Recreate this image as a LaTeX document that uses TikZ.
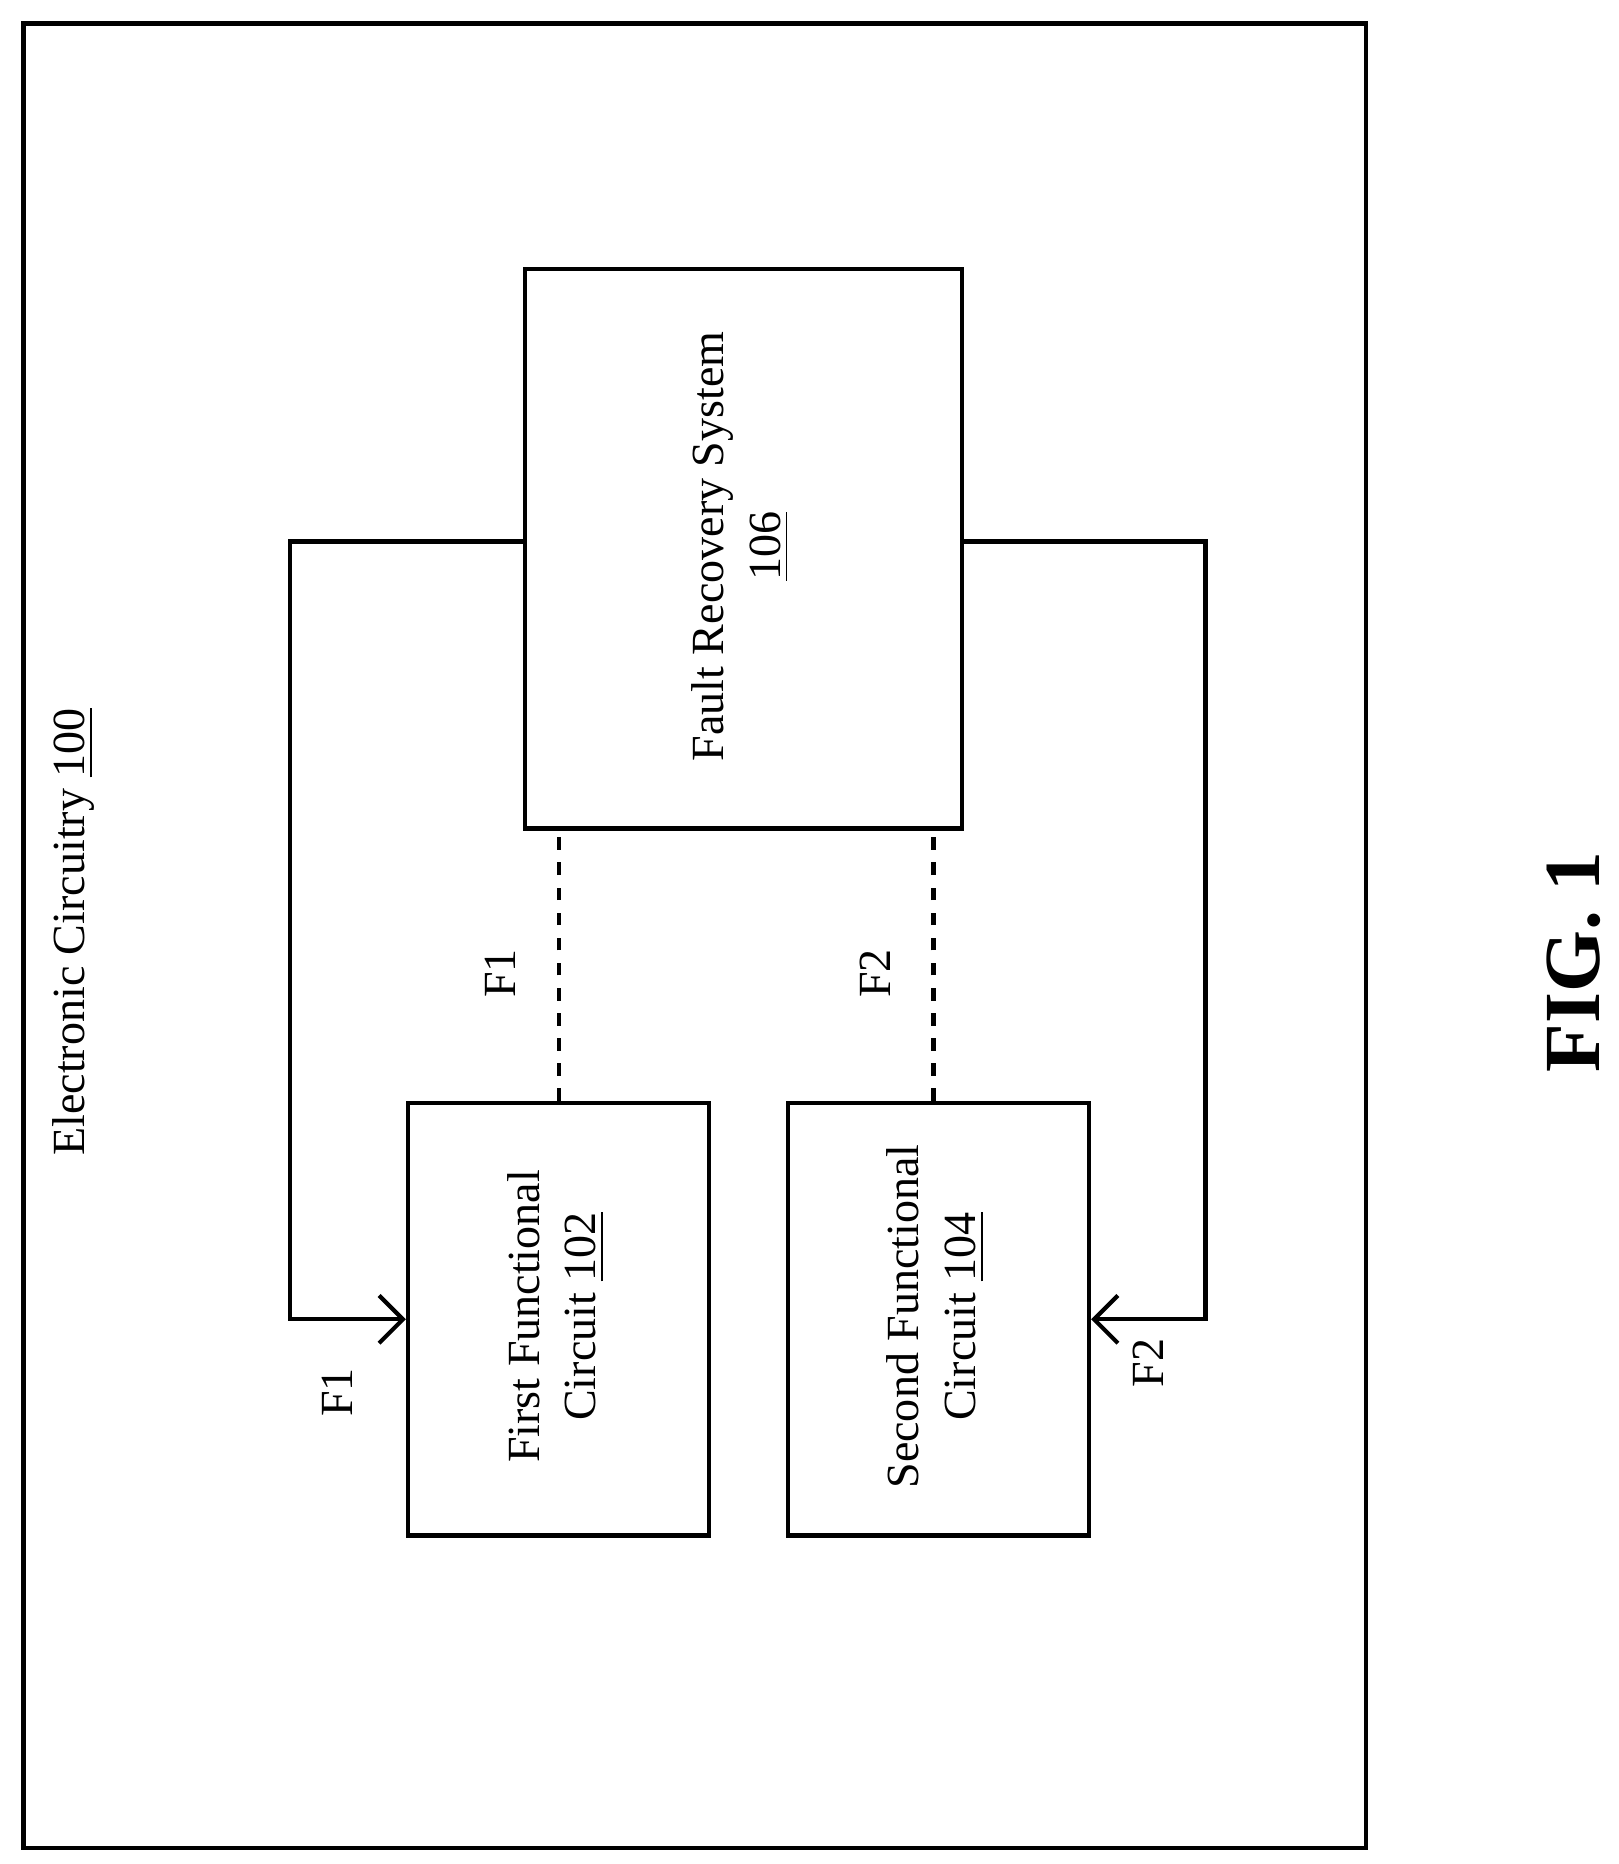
\documentclass[tikz,border=0pt]{standalone}
\usepackage{fontspec}
\setmainfont{Liberation Serif}
\usetikzlibrary{positioning,arrows.meta}
\begin{document}
\begin{tikzpicture}[x=0.01cm,y=-0.01cm,line width=1pt,
		blk/.style={draw=black,inner sep=0pt,anchor=north west},
		txt/.style={rotate=90,align=center,font=\fontsize{11}{13.5}\selectfont},
		sig/.style={-{Straight Barb[length=2mm,width=4mm]}}]
	\useasboundingbox (0,0) rectangle (1360,1566);
	\node[blk,minimum width=11.27cm,minimum height=15.32cm] (ec) at (18,18) {};
	\node[blk,minimum width=3.67cm,minimum height=4.7cm] (frs) at (439,224) {};
	\node[blk,minimum width=2.53cm,minimum height=3.63cm] (ffc) at (341,925) {};
	\node[blk,minimum width=2.53cm,minimum height=3.63cm] (sfc) at (660,925) {};
	
	\node[txt] (ectxt) at (62,783) {Electronic Circuitry \underline{100}};
	\node[txt] (frstxt) at (622,459) {Fault Recovery System\\\underline{106}};
	\node[txt] (ffctxt) at (467,1106) {First Functional\\Circuit \underline{102}};
	\node[txt] (sfctxt) at (786,1106) {Second Functional\\Circuit \underline{104}};
	
	\draw[sig] ([yshift=0.06cm]frs.west) -| ([xshift=-0.97cm]ffc.west) -- (ffc.west);
	\draw[sig] ([yshift=0.06cm]frs.east) -| ([xshift=0.96cm]sfc.east) -- (sfc.east);
	\draw[dashed] (ffc.north) -- (ffc.north |- frs.south);
	\draw[dashed] ([xshift=-0.04cm]sfc.north) -- ([xshift=-0.04cm]sfc.north |- frs.south);
	
	\node[txt] (f1a) at (420,818) {F1};
	\node[txt] (f2a) at (735,818) {F2};
	\node[txt] (f1b) at (283,1170) {F1};
	\node[txt] (f2b) at (965,1145) {F2};
	
	\node[rotate=90,font=\fontsize{19}{23}\selectfont\bfseries] (fig) at (1322,808) {FIG. 1};
\end{tikzpicture}
\end{document}
